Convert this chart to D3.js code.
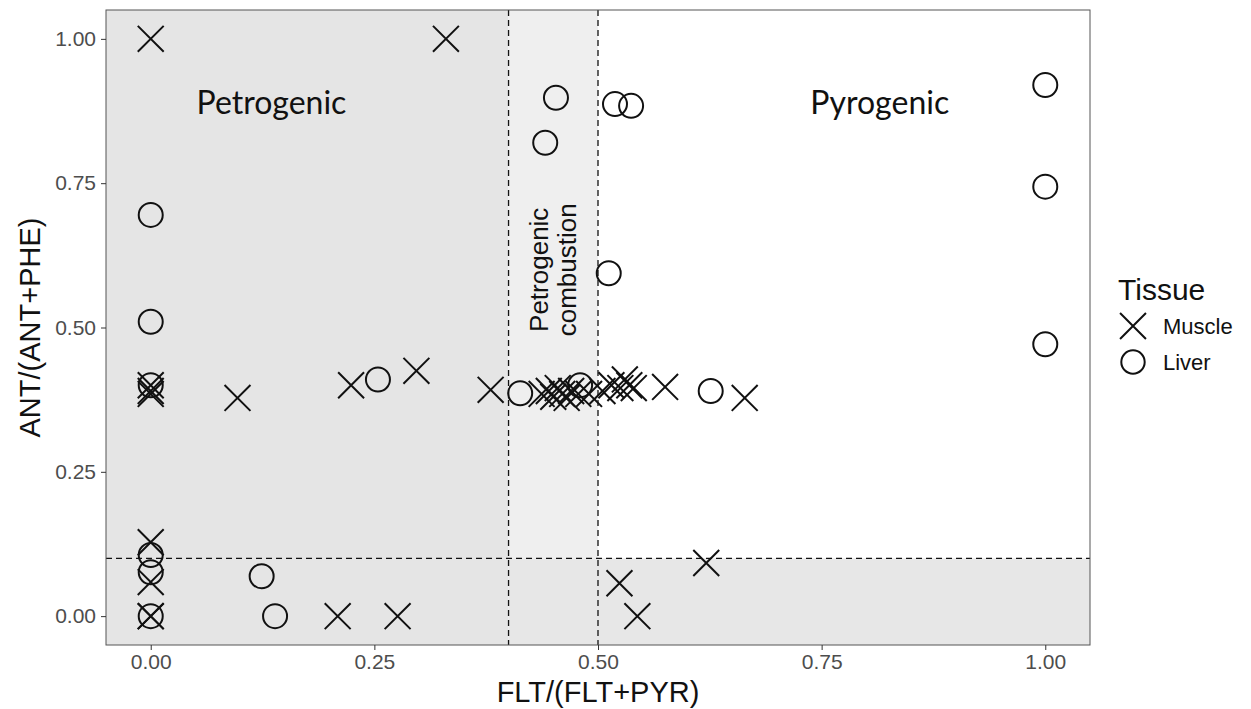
<!DOCTYPE html>
<html>
<head>
<meta charset="utf-8">
<script src="https://cdn.jsdelivr.net/npm/d3@7"></script>
<style>
body { margin: 0; background: white; }
</style>
</head>
<body>
<div id="chart"></div>
<script>
var margin = {top: 10, right: 161, bottom: 64, left: 106}
var width = 1251 - margin.left - margin.right
var height = 709 - margin.top - margin.bottom

// Gather data

var muscleX = [0, 0.33, 0, 0, 0, 0.097, 0.224, 0.297, 0.38,
    0.437, 0.445, 0.45, 0.455, 0.46, 0.465, 0.47, 0.478, 0.49, 0.505, 0.515, 0.525, 0.53, 0.535, 0.54,
    0.575, 0.664, 0, 0, 0, 0, 0.209, 0.276, 0.524, 0.544, 0.621];
var muscleY = [1.00, 1.00, 0.40, 0.39, 0.385, 0.378, 0.40, 0.425, 0.392,
    0.385, 0.39, 0.38, 0.395, 0.385, 0.378, 0.39, 0.385, 0.385, 0.39, 0.40, 0.395, 0.41, 0.40, 0.395,
    0.397, 0.378, 0.128, 0.059, 0, 0, 0, 0, 0.057, 0, 0.092];

var liverX = [0, 0, 0, 0, 0, 0, 0.124, 0.139, 0.254, 0.413,
    0.453, 0.441, 0.519, 0.537, 0.512, 0.48, 0.626, 1, 1, 1];
var liverY = [0.695, 0.51, 0.40, 0.106, 0.076, 0, 0.069, 0, 0.41, 0.386,
    0.898, 0.82, 0.887, 0.884, 0.594, 0.40, 0.39, 0.92, 0.744, 0.471];

var xTicks = [0, 0.25, 0.5, 0.75, 1];
var yTicks = [0, 0.25, 0.5, 0.75, 1];
var tissues = ["Muscle", "Liver"];

var x_scale = d3.scaleLinear()
    .domain([-0.05, 1.05])
    .range([0, width]);

var y_scale = d3.scaleLinear()
    .domain([-0.05, 1.05])
    .range([height, 0]);

var xAxis = d3.axisBottom(x_scale).tickValues(xTicks).tickFormat(d3.format(".2f")).tickSizeOuter(0).tickSize(5).tickPadding(4);
var yAxis = d3.axisLeft(y_scale).tickValues(yTicks).tickFormat(d3.format(".2f")).tickSizeOuter(0).tickSize(5).tickPadding(5);

// Chart background

var svg = d3.select("#chart")
    .append('svg')
    .attr('width', 1251)
    .attr('height', 709)
    .style("background-color", "white")
    .style("display", "block")

var chart = svg.append('g')
    .attr("transform", 'translate(' + margin.left + ',' + margin.top + ')')

// Shaded regions

var x0 = x_scale(-0.05), x4 = x_scale(0.4), x5 = x_scale(0.5), x1 = x_scale(1.05);
var yTop = y_scale(1.05), y01 = y_scale(0.1), yBot = y_scale(-0.05);

chart.append("rect")
    .attr("x", x0).attr("y", yTop)
    .attr("width", x4 - x0).attr("height", yBot - yTop)
    .style("fill", "#e5e5e5")

chart.append("rect")
    .attr("x", x4).attr("y", yTop)
    .attr("width", x5 - x4).attr("height", y01 - yTop)
    .style("fill", "#efefef")

chart.append("rect")
    .attr("x", x4).attr("y", y01)
    .attr("width", x1 - x4).attr("height", yBot - y01)
    .style("fill", "#e7e7e7")

// Dashed lines

chart.append("line")
    .attr("x1", x4).attr("x2", x4).attr("y1", yTop).attr("y2", yBot)
    .style("stroke", "#111").style("stroke-width", 1.3).style("stroke-dasharray", "6,4")
chart.append("line")
    .attr("x1", x5).attr("x2", x5).attr("y1", yTop).attr("y2", yBot)
    .style("stroke", "#111").style("stroke-width", 1.3).style("stroke-dasharray", "6,4")
chart.append("line")
    .attr("x1", x0).attr("x2", x1).attr("y1", y01).attr("y2", y01)
    .style("stroke", "#111").style("stroke-width", 1.3).style("stroke-dasharray", "6,4")

// Region labels

chart.append("text")
    .attr("x", x_scale(0.135)).attr("y", y_scale(0.87))
    .attr("text-anchor", "middle")
    .style("font-family", "Lato, 'Open Sans', sans-serif")
    .style("font-size", "32px")
    .style("fill", "#111")
    .text("Petrogenic")

chart.append("text")
    .attr("x", x_scale(0.815)).attr("y", y_scale(0.87))
    .attr("text-anchor", "middle")
    .style("font-family", "Lato, 'Open Sans', sans-serif")
    .style("font-size", "32px")
    .style("fill", "#111")
    .text("Pyrogenic")

var vlab = chart.append("text")
    .attr("transform", "translate(" + x_scale(0.45) + "," + y_scale(0.6) + ") rotate(-90)")
    .attr("text-anchor", "middle")
    .style("font-family", "'Liberation Sans', Arial, sans-serif")
    .style("font-size", "26px")
    .style("fill", "#111")
vlab.append("tspan").attr("x", 0).attr("dy", "-0.22em").text("Petrogenic")
vlab.append("tspan").attr("x", 0).attr("dy", "1.1em").text("combustion")

// Adding data

var cross = d3.symbol().type(d3.symbolX).size(440);

chart.append("g")
    .selectAll("path")
    .data(muscleX)
    .enter()
    .append("path")
    .attr("transform", function(d, i) {
        return "translate(" + x_scale(d) + "," + y_scale(muscleY[i]) + ")";
    })
    .attr("d", cross)
    .style("fill", "none")
    .style("stroke", "#111")
    .style("stroke-width", 2)

chart.append("g")
    .selectAll("circle")
    .data(liverX)
    .enter()
    .append("circle")
    .attr("cx", function(d) { return x_scale(d); })
    .attr("cy", function(d, i) { return y_scale(liverY[i]); })
    .attr("r", 12)
    .style("fill", "none")
    .style("stroke", "#111")
    .style("stroke-width", 2)

// Panel border

chart.append("rect")
    .attr("x", 0).attr("y", 0)
    .attr("width", width).attr("height", height)
    .style("fill", "none")
    .style("stroke", "#555")
    .style("stroke-width", 1)

// Adding axes

var gx = chart.append("g")
    .attr("transform", "translate(0," + height + ")")
    .call(xAxis);
var gy = chart.append("g")
    .call(yAxis);

[gx, gy].forEach(function(g) {
    g.select(".domain").remove();
    g.selectAll(".tick line").style("stroke", "#333");
    g.selectAll(".tick text")
        .style("font-family", "'Liberation Sans', Arial, sans-serif")
        .style("font-size", "21px")
        .style("fill", "#4d4d4d");
});

svg.append("text")
    .attr("x", margin.left + x_scale(0.5))
    .attr("y", 702)
    .attr("text-anchor", "middle")
    .style("font-family", "'Liberation Sans', Arial, sans-serif")
    .style("font-size", "29px")
    .style("fill", "#111")
    .text("FLT/(FLT+PYR)")

svg.append("text")
    .attr("transform", "translate(40," + (margin.top + y_scale(0.5)) + ") rotate(-90)")
    .attr("text-anchor", "middle")
    .style("font-family", "'Liberation Sans', Arial, sans-serif")
    .style("font-size", "29px")
    .style("fill", "#111")
    .text("ANT/(ANT+PHE)")

// Legend

var legend = svg.append("g")
    .attr("transform", "translate(1118,0)")

legend.append("text")
    .attr("x", 0).attr("y", 300)
    .style("font-family", "'Liberation Sans', Arial, sans-serif")
    .style("font-size", "30px")
    .style("fill", "#111")
    .text("Tissue")

var items = legend.selectAll("g.item")
    .data(tissues)
    .enter()
    .append("g")
    .attr("class", "item")
    .attr("transform", function(d, i) { return "translate(0," + (326 + i * 36) + ")"; })

items.append("path")
    .attr("transform", "translate(15,0)")
    .attr("d", function(d) { return d == "Muscle" ? cross() : d3.symbol().type(d3.symbolCircle).size(430)(); })
    .style("fill", "none")
    .style("stroke", "#111")
    .style("stroke-width", 2)

items.append("text")
    .attr("x", 45).attr("y", 8)
    .style("font-family", "'Liberation Sans', Arial, sans-serif")
    .style("font-size", "22px")
    .style("fill", "#111")
    .text(function(d) { return d; })
</script>
</body>
</html>
